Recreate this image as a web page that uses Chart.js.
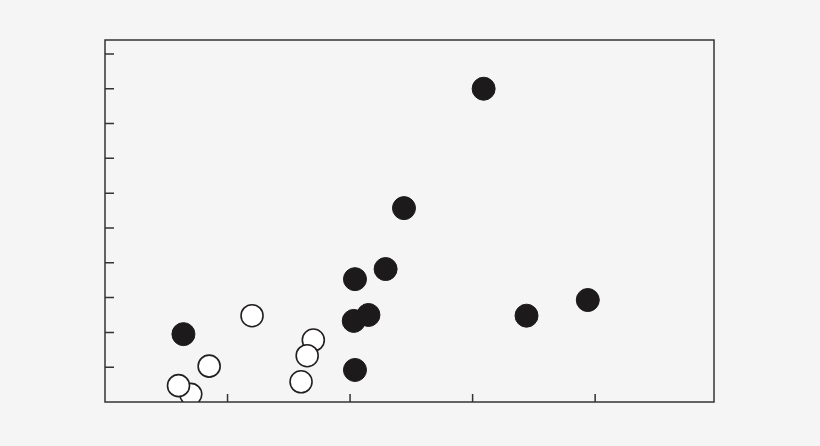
<!DOCTYPE html>
<html>
<head>
<meta charset="utf-8">
<script src="https://cdn.jsdelivr.net/npm/chart.js@4"></script>
<style>
  html, body { margin: 0; padding: 0; background: #f5f5f5; }
  #wrap { width: 820px; height: 446px; }
</style>
</head>
<body>
<div id="wrap"><canvas id="chart" width="820" height="446"></canvas></div>
<script>
// filled points
const filledX = [0.64, 2.04, 2.03, 2.15, 2.04, 2.29, 2.44, 3.09, 3.44, 3.94];
const filledY = [1.95, 0.92, 2.33, 2.50, 3.53, 3.82, 5.57, 9.00, 2.48, 2.93];
// open points (order matters for overlap)
const openX = [0.70, 0.60, 0.85, 1.20, 1.70, 1.65, 1.60];
const openY = [0.22, 0.47, 1.03, 2.48, 1.78, 1.33, 0.58];
// tick values (no labels shown)
const xTicks = [1, 2, 3, 4];
const yTicks = [1, 2, 3, 4, 5, 6, 7, 8, 9, 10];

function toPoints(xs, ys) {
    return xs.map((x, i) => ({ x: x, y: ys[i] }));
}

// draws the frame and inward tick marks using the chart scales
const frame = {
    id: 'frame',
    afterDatasetsDraw(chart) {
        const ctx = chart.ctx;
        const a = chart.chartArea;
        ctx.save();
        ctx.strokeStyle = '#333';
        ctx.lineWidth = 1.5;
        ctx.strokeRect(a.left, a.top, a.right - a.left, a.bottom - a.top);
        ctx.beginPath();
        yTicks.forEach(v => {
            const y = chart.scales.y.getPixelForValue(v);
            ctx.moveTo(a.left, y);
            ctx.lineTo(a.left + 9, y);
        });
        xTicks.forEach(v => {
            const x = chart.scales.x.getPixelForValue(v);
            ctx.moveTo(x, a.bottom);
            ctx.lineTo(x, a.bottom - 8);
        });
        ctx.stroke();
        ctx.restore();
    }
};

new Chart(document.getElementById('chart'), {
    type: 'scatter',
    data: {
        datasets: [{
            data: toPoints(filledX, filledY),
            backgroundColor: '#1c1a1a',
            borderColor: '#1c1a1a',
            borderWidth: 1,
            pointRadius: 11.5,
            pointHoverRadius: 11.5
        }, {
            data: toPoints(openX, openY),
            backgroundColor: '#ffffff',
            borderColor: '#231f20',
            borderWidth: 1.6,
            pointRadius: 11,
            pointHoverRadius: 11
        }]
    },
    options: {
        responsive: false,
        animation: false,
        layout: { padding: { left: 105, right: 106, top: 40, bottom: 44 } },
        plugins: { legend: { display: false }, tooltip: { enabled: false } },
        scales: {
            x: { type: 'linear', min: 0, max: 4.97, display: false },
            y: { type: 'linear', min: 0, max: 10.4, display: false }
        }
    },
    plugins: [frame]
});
</script>
</body>
</html>
